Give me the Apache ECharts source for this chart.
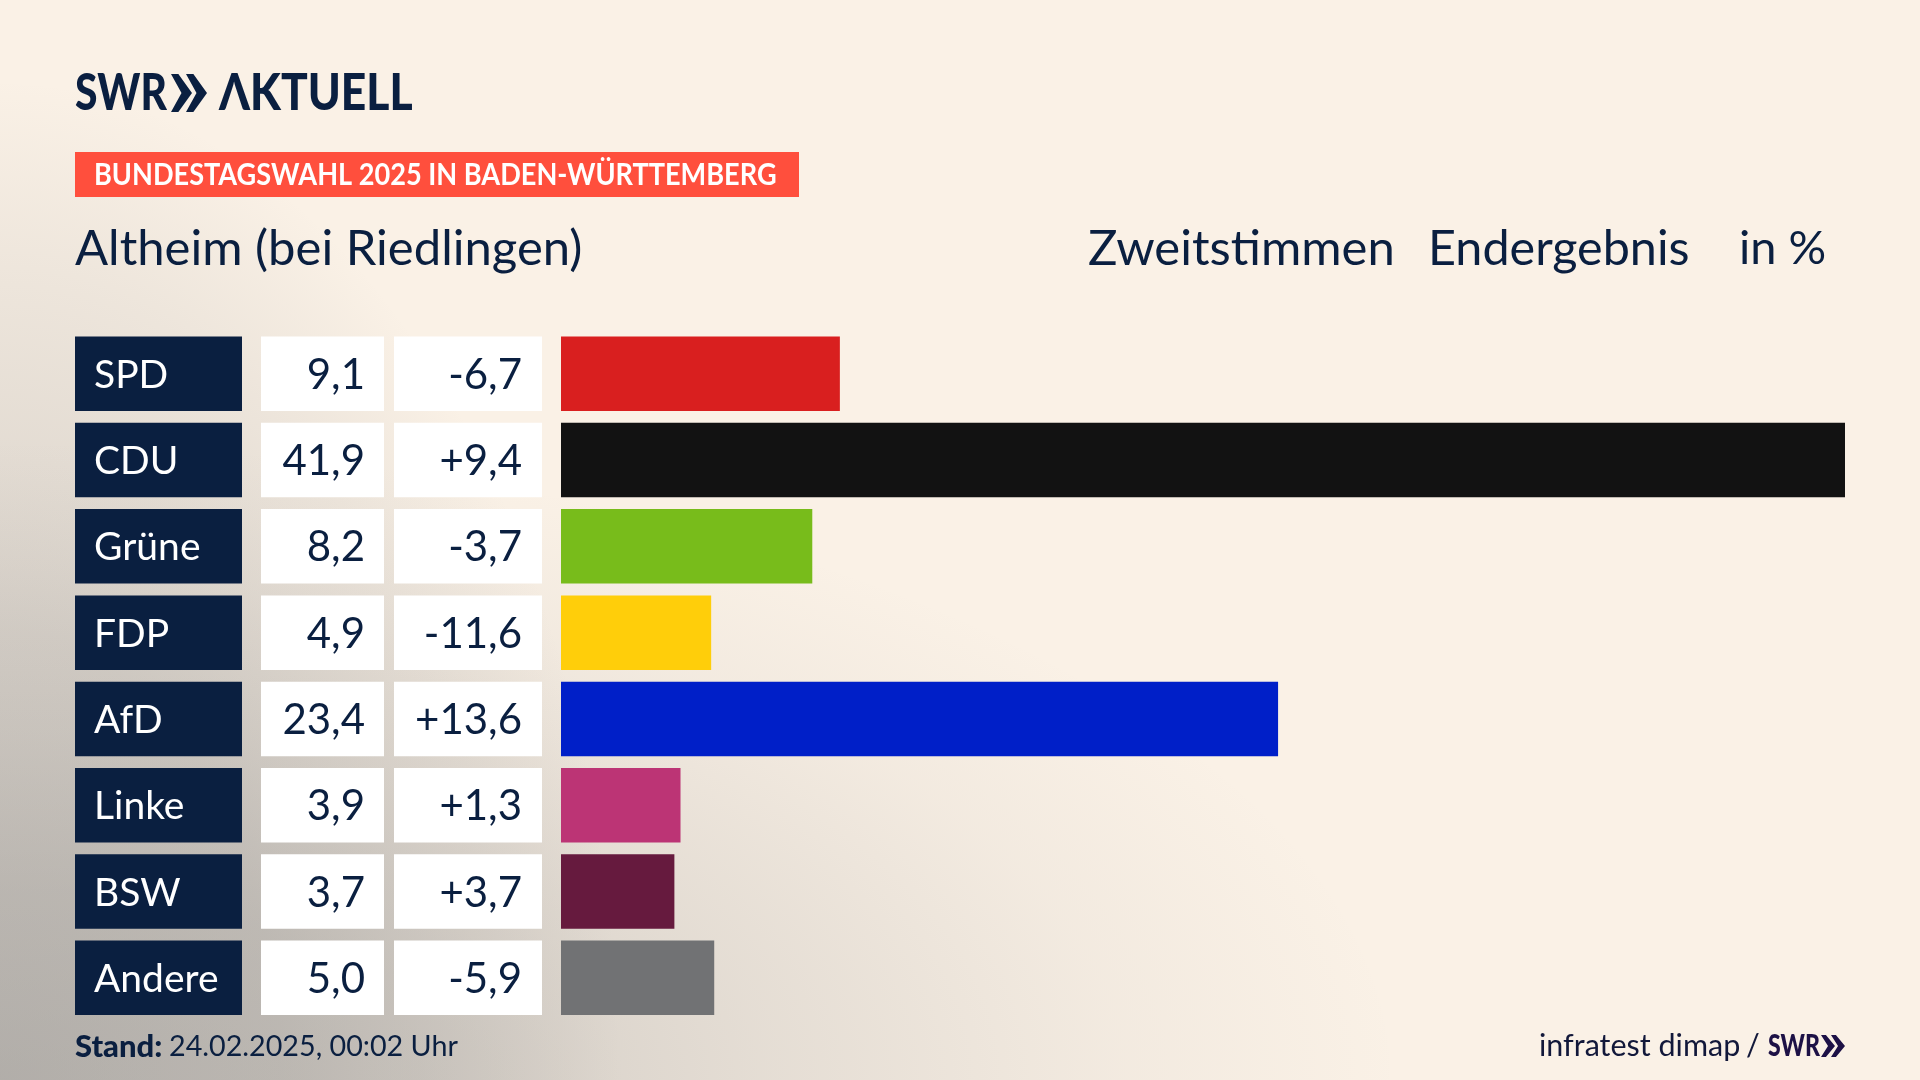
<!DOCTYPE html>
<html>
<head>
<meta charset="utf-8">
<title>Altheim (bei Riedlingen)</title>
<script src="https://cdn.jsdelivr.net/npm/echarts@6/dist/echarts.min.js"></script>
<style>
    html, body { margin: 0; padding: 0; }
    #chart {
        width: 1920px;
        height: 1080px;
        background:
            radial-gradient(ellipse 1400px 640px at 0px 1080px, rgba(125,125,125,0.38) 0%, rgba(125,125,125,0.3) 30%, rgba(125,125,125,0.17) 55%, rgba(125,125,125,0.06) 80%, rgba(125,125,125,0) 100%),
            radial-gradient(ellipse 620px 1000px at 0px 1080px, rgba(125,125,125,0.32) 0%, rgba(125,125,125,0.26) 45%, rgba(125,125,125,0.1) 80%, rgba(125,125,125,0) 100%),
            #faf1e6;
    }
</style>
</head>
<body>
<div id="chart"></div>
<script>
    var parties = ['SPD', 'CDU', 'Grüne', 'FDP', 'AfD', 'Linke', 'BSW', 'Andere'];
    var shares = [9.1, 41.9, 8.2, 4.9, 23.4, 3.9, 3.7, 5.0];
    var changes = [-6.7, 9.4, -3.7, -11.6, 13.6, 1.3, 3.7, -5.9];
    var partyColors = ['#d91f1f', '#121212', '#78bc1b', '#ffce0a', '#001fc8', '#bc3475', '#661a3e', '#717274'];

    var NAVY = '#0a1f40';
    var FONT = 'Lato';
    var ROW_TOP = 330.6;
    var ROW_STEP = 86.3;

    function comma(v) {
        return v.toFixed(1).replace('.', ',');
    }

    function signed(v) {
        return (v > 0 ? '+' : '') + comma(v);
    }

    // every column is a grid of its own, rows come from the category axis
    function column(left, width) {
        return { left: left, width: width, top: ROW_TOP, height: ROW_STEP * parties.length };
    }

    function cellSeries(index, color, labelColor, position, offsetX, fontSize, texts) {
        return {
            type: 'bar',
            xAxisIndex: index,
            yAxisIndex: index,
            barWidth: 74.5,
            silent: true,
            itemStyle: { color: color },
            data: parties.map(function() { return 1; }),
            label: {
                show: true,
                position: position,
                offset: [offsetX, 1.5],
                color: labelColor,
                fontFamily: FONT,
                fontSize: fontSize,
                formatter: function(p) { return texts[p.dataIndex]; }
            }
        };
    }

    // text anchored at its left end, scaleX squeezes it to the narrow look of the original
    function text(x, y, str, font, fill, scaleX) {
        return {
            type: 'text',
            x: x,
            y: y,
            scaleX: scaleX || 1,
            style: { text: str, font: font, fill: fill, align: 'left', verticalAlign: 'middle' }
        };
    }

    function chevron(x, top, w, h, fill) {
        return {
            type: 'polygon',
            shape: { points: [
                [x, top], [x + w * 0.35, top], [x + w, top + h / 2],
                [x + w * 0.35, top + h], [x, top + h], [x + w * 0.5, top + h / 2]
            ] },
            style: { fill: fill }
        };
    }

    var columns = [
        column(75, 167),
        column(261, 123),
        column(394, 148),
        column(561, 1284)
    ];

    var chart = echarts.init(document.getElementById('chart'), null, { renderer: 'canvas' });

    chart.setOption({
        animation: false,
        backgroundColor: 'transparent',
        grid: columns,
        xAxis: columns.map(function(c, i) {
            return { gridIndex: i, type: 'value', min: 0, max: i === 3 ? 41.9 : 1, show: false };
        }),
        yAxis: columns.map(function(c, i) {
            return { gridIndex: i, type: 'category', inverse: true, data: parties, show: false };
        }),
        series: [
            cellSeries(0, NAVY, '#ffffff', 'insideLeft', 14, 39, parties),
            cellSeries(1, '#ffffff', NAVY, 'insideRight', -14, 42, shares.map(comma)),
            cellSeries(2, '#ffffff', NAVY, 'insideRight', -15, 42, changes.map(signed)),
            {
                type: 'bar',
                xAxisIndex: 3,
                yAxisIndex: 3,
                barWidth: 74.5,
                silent: true,
                data: shares.map(function(v, i) {
                    return { value: v, itemStyle: { color: partyColors[i] } };
                })
            }
        ],
        graphic: [
            // logo
            text(75, 94, 'SWR', '900 51px ' + FONT, NAVY, 0.8),
            chevron(171, 74, 21, 38, NAVY),
            chevron(186, 74, 21, 38, NAVY),
            text(219, 94, 'ΛKTUELL', '900 51px ' + FONT, NAVY, 0.87),

            // banner
            { type: 'rect', shape: { x: 75, y: 152, width: 724, height: 45 }, style: { fill: '#ff4f3d' } },
            text(94, 175, 'BUNDESTAGSWAHL 2025 IN BADEN-WÜRTTEMBERG', '700 31px ' + FONT, '#ffffff', 0.875),

            // header
            text(75, 249, 'Altheim (bei Riedlingen)', '49px ' + FONT, NAVY),
            text(1088, 249, 'Zweitstimmen', '49px ' + FONT, NAVY),
            text(1428, 249, 'Endergebnis', '48.5px ' + FONT, NAVY),
            text(1739, 249, 'in %', '47px ' + FONT, NAVY),

            // footer
            text(75, 1047, 'Stand:', '900 31px ' + FONT, NAVY),
            text(169, 1047, '24.02.2025, 00:02 Uhr', '28.7px ' + FONT, NAVY),
            text(1539, 1046, 'infratest dimap', '30.5px ' + FONT, '#12183a'),
            text(1746, 1046, '/', '30.5px ' + FONT, '#12183a'),
            text(1768, 1046, 'SWR', '900 30px ' + FONT, '#1d1146', 0.77),
            chevron(1821, 1035, 14, 22, '#1d1146'),
            chevron(1831, 1035, 14, 22, '#1d1146')
        ]
    });
</script>
</body>
</html>
